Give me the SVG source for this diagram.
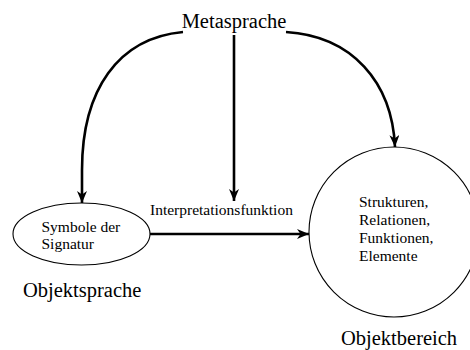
<svg xmlns="http://www.w3.org/2000/svg" width="470" height="350" viewBox="0 0 470 350">
  <style>
    text { font-family: 'Liberation Serif', 'DejaVu Serif', serif; fill: #000; }
    .big { font-size: 20.5px; }
    .small { font-size: 15.5px; }
    .shape { fill: none; stroke: #000; stroke-width: 1.1; }
    .edge { fill: none; stroke: #000; stroke-width: 2.6; marker-end: url(#head); }
  </style>
  <defs>
    <marker id="head" viewBox="0 0 12 10" refX="12" refY="5" markerWidth="12" markerHeight="10" markerUnits="userSpaceOnUse" orient="auto">
      <path d="M0,0 L12,5 L0,10 L3.5,5 z" fill="#000"/>
    </marker>
  </defs>
  <rect width="470" height="350" fill="#fff"/>

  <g id="metasprache" font-family="Liberation Serif, DejaVu Serif, serif">
    <text class="big" x="234" y="28" text-anchor="middle">Metasprache</text>
  </g>

  <g id="objektsprache" font-family="Liberation Serif, DejaVu Serif, serif">
    <ellipse class="shape" cx="81.5" cy="234" rx="68.5" ry="31"/>
    <text class="small" x="41.5" y="232">Symbole der</text>
    <text class="small" x="41.5" y="249">Signatur</text>
    <text class="big" x="23" y="297">Objektsprache</text>
  </g>

  <g id="objektbereich" font-family="Liberation Serif, DejaVu Serif, serif">
    <circle class="shape" cx="394" cy="232" r="85"/>
    <text class="small" x="359" y="207">Strukturen,</text>
    <text class="small" x="359" y="225">Relationen,</text>
    <text class="small" x="359" y="243">Funktionen,</text>
    <text class="small" x="359" y="261">Elemente</text>
    <text class="big" x="341" y="345">Objektbereich</text>
  </g>

  <g id="connectors" font-family="Liberation Serif, DejaVu Serif, serif">
    <path class="edge" d="M183,32 C118,38 82,90 82,170 L82,203"/>
    <path class="edge" d="M234,35 L234,201"/>
    <path class="edge" d="M286,32 C352,36 392,82 395,147"/>
    <path class="edge" d="M150,234 L309,234"/>
    <text class="small" x="150" y="215">Interpretationsfunktion</text>
  </g>
</svg>
